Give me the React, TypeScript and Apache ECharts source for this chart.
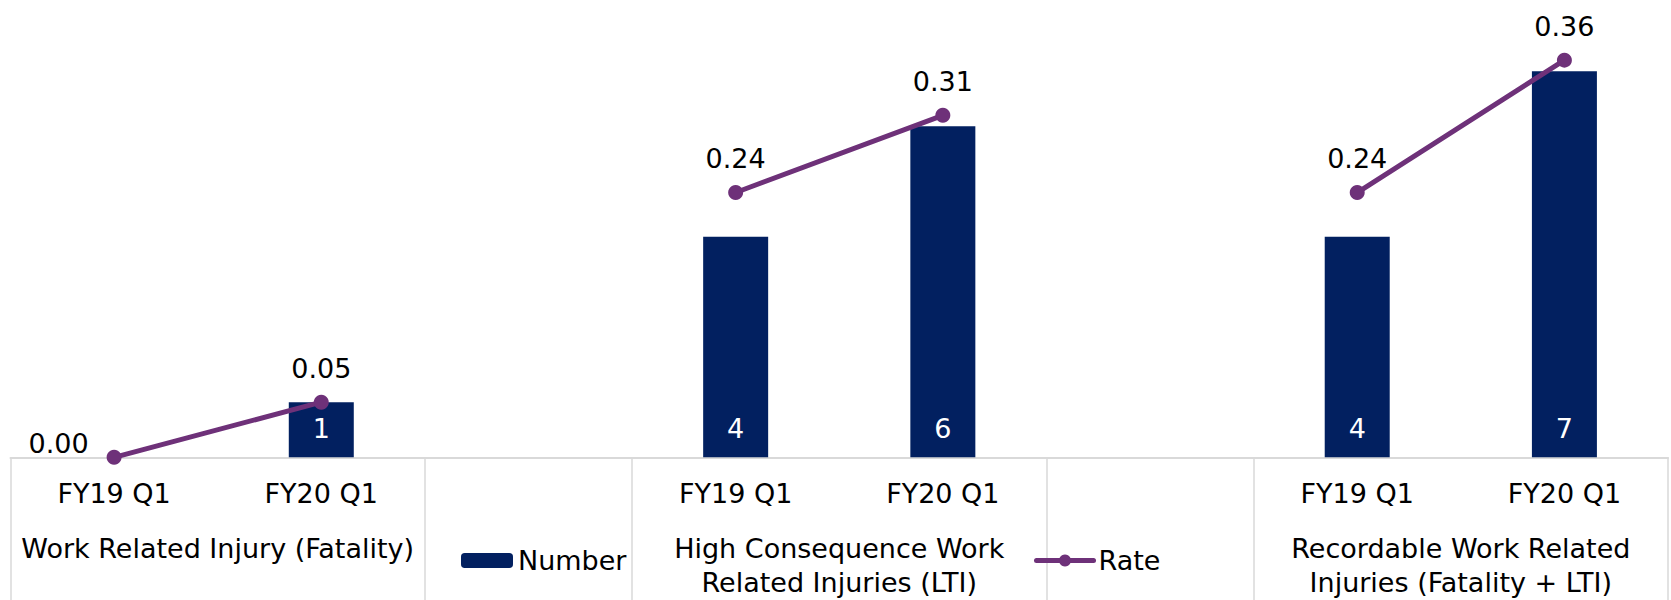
import React, { useEffect, useRef } from "react";
import * as echarts from "echarts";

const categories = ["FY19 Q1", "FY20 Q1", "", "FY19 Q1", "FY20 Q1", "", "FY19 Q1", "FY20 Q1"];
const groupLabels = [
  "",
  "Work Related Injury (Fatality)",
  "",
  "",
  "High Consequence Work\nRelated Injuries (LTI)",
  "",
  "",
  "Recordable Work Related\nInjuries (Fatality + LTI)",
  "",
];
const separatorIdx = [0, 2, 3, 5, 6, 8];
const numberValues = [0, 1, null, 4, 6, null, 4, 7];
const rateValues = [0.0, 0.05, null, 0.24, 0.31, null, 0.24, 0.36];

const FONT = "DejaVu Sans";
const FS = 27;
const BAR_COLOR = "#022060";
const LINE_COLOR = "#6E3179";

export default function App() {
  const ref = useRef<HTMLDivElement>(null);
  useEffect(() => {
    if (!ref.current) return;
    const chart = echarts.init(ref.current, undefined, { renderer: "svg" });
    chart.setOption({
      animation: false,
      textStyle: { fontFamily: FONT },
      grid: { left: 10.5, right: -5, top: 16, bottom: 142.7, containLabel: false },
      legend: [
        {
          data: ["Number"],
          left: 456,
          top: 542,
          itemWidth: 52,
          itemHeight: 15,
          itemGap: 5,
          textStyle: { fontSize: FS, color: "#000", fontFamily: FONT },
        },
        {
          data: ["Rate"],
          left: 1029,
          top: 542,
          itemWidth: 57,
          itemHeight: 15,
          lineStyle: { width: 5, cap: "round" },
          textStyle: { fontSize: FS, color: "#000", fontFamily: FONT },
        },
      ],
      xAxis: [
        {
          type: "category",
          data: categories,
          position: "bottom",
          axisLine: { show: true, lineStyle: { color: "#D9D9D9", width: 2 } },
          axisTick: { show: false },
          axisLabel: {
            interval: 0,
            margin: 19,
            fontSize: FS,
            lineHeight: 34,
            color: "#000",
            fontFamily: FONT,
          },
        },
        {
          type: "category",
          data: groupLabels,
          position: "bottom",
          boundaryGap: false,
          axisLine: { show: false },
          axisTick: {
            show: true,
            length: 150,
            interval: (i: number) => separatorIdx.includes(i),
            lineStyle: { color: "#D9D9D9", width: 1.5 },
          },
          axisLabel: {
            interval: 0,
            margin: 74,
            fontSize: FS,
            lineHeight: 34,
            color: "#000",
            fontFamily: FONT,
            align: "center",
          },
        },
      ],
      yAxis: [
        { type: "value", min: 0, max: 8, show: false, splitLine: { show: false } },
        { type: "value", min: 0, max: 0.4, show: false, splitLine: { show: false } },
      ],
      series: [
        {
          name: "Number",
          type: "bar",
          xAxisIndex: 0,
          yAxisIndex: 0,
          data: numberValues,
          barWidth: 65,
          itemStyle: { color: BAR_COLOR },
          label: {
            show: true,
            position: "insideBottom",
            distance: 15,
            color: "#fff",
            fontSize: FS,
            fontFamily: FONT,
            formatter: (p: any) => (p.value ? String(p.value) : ""),
          },
        },
        {
          name: "Rate",
          type: "line",
          xAxisIndex: 0,
          yAxisIndex: 1,
          data: rateValues.map((v, i) =>
            i === 0
              ? { value: v, label: { position: "left", distance: 18, offset: [0, -14] } }
              : v
          ),
          connectNulls: false,
          symbol: "circle",
          symbolSize: 15,
          lineStyle: { color: LINE_COLOR, width: 5 },
          itemStyle: { color: LINE_COLOR },
          label: {
            show: true,
            position: "top",
            distance: 13,
            color: "#000",
            fontSize: FS,
            fontFamily: FONT,
            formatter: (p: any) => Number(p.value).toFixed(2),
          },
          z: 3,
        },
      ],
    });
    return () => chart.dispose();
  }, []);
  return (
    <div
      ref={ref}
      style={{ position: "fixed", left: 0, top: 0, width: 1671, height: 600, background: "#fff" }}
    />
  );
}
